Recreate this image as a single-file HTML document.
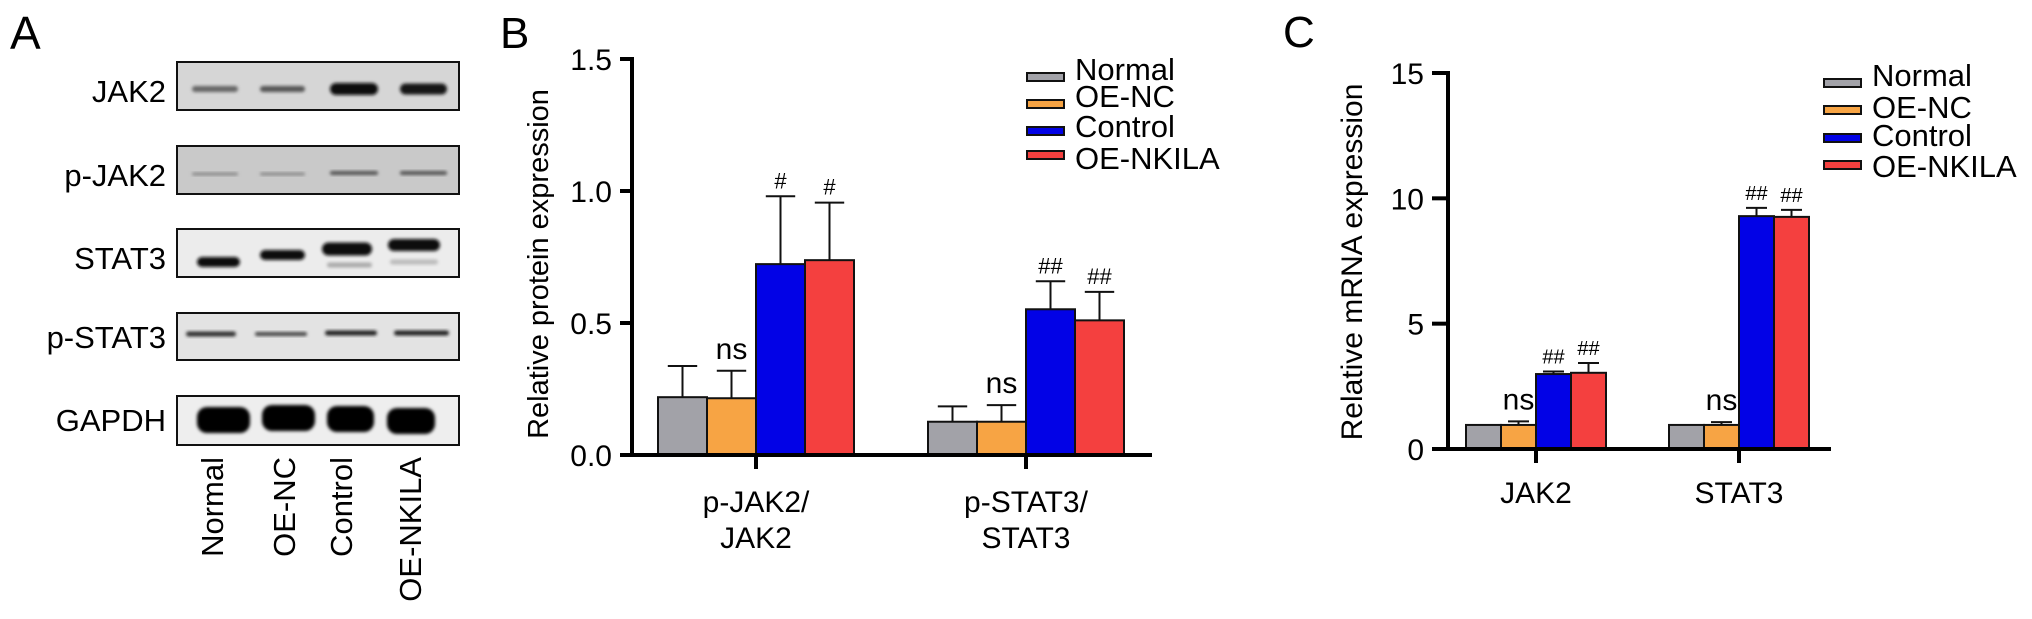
<!DOCTYPE html>
<html><head><meta charset="utf-8"><style>
html,body{margin:0;padding:0;background:#fff;}
svg{display:block;font-family:"Liberation Sans",Arial,sans-serif;}
</style></head><body>
<svg id="fig" width="2032" height="619" viewBox="0 0 2032 619" xmlns="http://www.w3.org/2000/svg">
<defs>
<filter id="blur1" x="-20%" y="-50%" width="140%" height="200%"><feGaussianBlur stdDeviation="1.6"/></filter>
</defs>
<text x="10" y="49" font-size="46">A</text>
<text x="500" y="48" font-size="44">B</text>
<text x="1283" y="47" font-size="44">C</text>
<g id="blot"></g>
<g id="chartB"></g>
<g id="chartC"></g>
</svg>
<script>
const NS='http://www.w3.org/2000/svg';
function mk(parent,tag,attrs,txt){const e=document.createElementNS(NS,tag);for(const k in attrs)e.setAttribute(k,attrs[k]);if(txt!==undefined)e.textContent=txt;parent.appendChild(e);return e;}

// ---------- Panel A: blot ----------
const blotRows=['JAK2','p-JAK2','STAT3','p-STAT3','GAPDH'];
const laneNames=['Normal','OE-NC','Control','OE-NKILA'];
(function(){
  const g=document.getElementById('blot');
  const boxes=[[62,110,'#d6d6d6'],[146,194,'#c9c9c9'],[229,277,'#ececec'],[313,360,'#e3e3e3'],[396,445,'#eeeeee']];
  const labelY=[102,186,269,348,431];
  boxes.forEach((b,i)=>{
    const r=mk(g,'rect',{x:177,y:b[0],width:282,height:b[1]-b[0],fill:b[2],stroke:'#111','stroke-width':2});
    
    
    const t=mk(g,'text',{x:166,y:labelY[i],'font-size':31,'text-anchor':'end'},blotRows[i]);
    
    
  });
  const bands=[
    [0,192,46,89,6,'#666'],[0,260,45,89,6,'#555'],[0,330,48,89,12,'#111'],[0,400,47,89,11,'#151515'],
    [1,192,46,174,3,'#888'],[1,260,45,174,3,'#888'],[1,330,48,173,4,'#555'],[1,400,47,173,4,'#555'],
    [2,197,43,262,10,'#111'],[2,260,45,255,10,'#111'],[2,322,50,249,13,'#0a0a0a'],[2,388,52,245,12,'#0a0a0a'],
    [2,327,45,265,5,'#aaa'],[2,390,48,262,5,'#bbb'],
    [3,186,50,334,5,'#333'],[3,255,52,334,4,'#444'],[3,325,52,333,5,'#222'],[3,394,55,333,5,'#222'],
    [4,197,53,420,26,'#050505'],[4,262,53,418,26,'#050505'],[4,327,47,419,26,'#050505'],[4,387,48,421,26,'#050505']
  ];
  bands.forEach(b=>{
    const r=mk(g,'rect',{x:b[1],y:b[3]-b[4]/2,width:b[2],height:b[4],rx:Math.min(b[4]/2,10),fill:b[5],filter:'url(#blur1)'});
    
    
  });
  const laneX=[223,295,352,421];
  laneNames.forEach((n,i)=>{
    const t=mk(g,'text',{x:0,y:0,'font-size':31,'text-anchor':'end',transform:`translate(${laneX[i]},457) rotate(-90)`},n);
    
    
  });
})();

// ---------- chart data ----------
const seriesNames=['Normal','OE-NC','Control','OE-NKILA'];
const seriesColors=['#a2a2a8','#f7a444','#0202e6','#f4403f'];
const catsB=[['p-JAK2/','JAK2'],['p-STAT3/','STAT3']];
const valsB=[[0.219,0.215,0.723,0.738],[0.126,0.126,0.552,0.510]];
const errB=[[0.337,0.319,0.980,0.956],[0.184,0.189,0.658,0.618]];
const sigB=[['','ns','#','#'],['','ns','##','##']];
const ticksB=[0,0.5,1.0,1.5];
const tickLabelsB=['0.0','0.5','1.0','1.5'];
const catsC=[['JAK2'],['STAT3']];
const valsC=[[0.96,0.96,2.99,3.04],[0.96,0.96,9.29,9.26]];
const errC=[[0.96,1.10,3.09,3.43],[0.96,1.07,9.62,9.54]];
const sigC=[['','ns','##','##'],['','ns','##','##']];
const ticksC=[0,5,10,15];
const tickLabelsC=['0','5','10','15'];

function drawChart(cfg){
  const g=document.getElementById(cfg.id);
  const y=v=>cfg.y0-(v-cfg.ymin)/(cfg.ymax-cfg.ymin)*(cfg.y0-cfg.y1);
  cfg.vals.forEach((grp,gi)=>{
    const cx=cfg.groupX[gi];
    grp.forEach((v,si)=>{
      const x=cx-2*cfg.bw+si*cfg.bw;
      const e=cfg.err[gi][si];
      if(e>v){
        const l=mk(g,'line',{x1:x+cfg.bw/2,x2:x+cfg.bw/2,y1:y(v),y2:y(e),stroke:'#111','stroke-width':2});
        
        
        const c=mk(g,'line',{x1:x+cfg.bw/2-cfg.bw*0.3,x2:x+cfg.bw/2+cfg.bw*0.3,y1:y(e),y2:y(e),stroke:'#111','stroke-width':2});
        
        
      }
      const r=mk(g,'rect',{x:x,y:y(v),width:cfg.bw,height:y(0)-y(v),fill:seriesColors[si],stroke:'#111','stroke-width':2});
      
      
      const s=cfg.sig[gi][si];
      if(s){
        const isNs=s==='ns';
        const t=mk(g,'text',{x:x+cfg.bw/2,y:y(e)-(isNs?12:8),'font-size':isNs?30:cfg.hashSize,'text-anchor':'middle'},s);
        
        
      }
    });
    const tk=mk(g,'line',{x1:cx,x2:cx,y1:y(0),y2:y(0)+14,stroke:'#000','stroke-width':4});
    
    
    cfg.cats[gi].forEach((line,li)=>{
      const t=mk(g,'text',{x:cx,y:cfg.xlabY+li*36,'font-size':30,'text-anchor':'middle'},line);
      
      
    });
  });
  const ya=mk(g,'line',{x1:cfg.ax,x2:cfg.ax,y1:cfg.y1-2,y2:y(0)+2,stroke:'#000','stroke-width':4});
  
  
  const xa=mk(g,'line',{x1:cfg.xa0,x2:cfg.xa1,y1:y(0),y2:y(0),stroke:'#000','stroke-width':4});
  
  
  cfg.ticks.forEach((tv,i)=>{
    const l=mk(g,'line',{x1:cfg.ax-cfg.tickLen,x2:cfg.ax,y1:y(tv),y2:y(tv),stroke:'#000','stroke-width':4});
    
    
    const t=mk(g,'text',{x:cfg.ax-cfg.tickLen-8,y:y(tv)+11,'font-size':30,'text-anchor':'end'},cfg.tickLabels[i]);
    
    
  });
  const yt=mk(g,'text',{x:0,y:0,'font-size':cfg.titleSize,'text-anchor':'middle',transform:`translate(${cfg.titleX},${cfg.titleY}) rotate(-90)`},cfg.title);
  
  
  seriesNames.forEach((n,i)=>{
    const cy=cfg.legY[i];
    const r=mk(g,'rect',{x:cfg.legX,y:cy-4,width:37,height:8,fill:seriesColors[i],stroke:'#111','stroke-width':2});
    
    
    const t=mk(g,'text',{x:cfg.legX+48,y:cfg.legTextY[i],'font-size':31},n);
    
    
  });
}

drawChart({id:'chartB',vals:valsB,err:errB,sig:sigB,cats:catsB,ticks:ticksB,tickLabels:tickLabelsB,
  ymin:0,ymax:1.5,y0:455,y1:59,ax:632,xa0:620,xa1:1152,tickLen:12,groupX:[756,1026],bw:49,
  xlabY:512,title:'Relative protein expression',titleX:548,titleY:264,titleSize:29,
  legX:1027,legY:[77,104,131,155],legTextY:[80,107,137,169],hashSize:22});
drawChart({id:'chartC',vals:valsC,err:errC,sig:sigC,cats:catsC,ticks:ticksC,tickLabels:tickLabelsC,
  ymin:0,ymax:15,y0:449,y1:73,ax:1448,xa0:1432,xa1:1831,tickLen:16,groupX:[1536,1739],bw:35,
  xlabY:503,title:'Relative mRNA expression',titleX:1362,titleY:262,titleSize:30,
  legX:1824,legY:[83,110,138,165],legTextY:[86,118,146,177],hashSize:20});
</script>
</body></html>
